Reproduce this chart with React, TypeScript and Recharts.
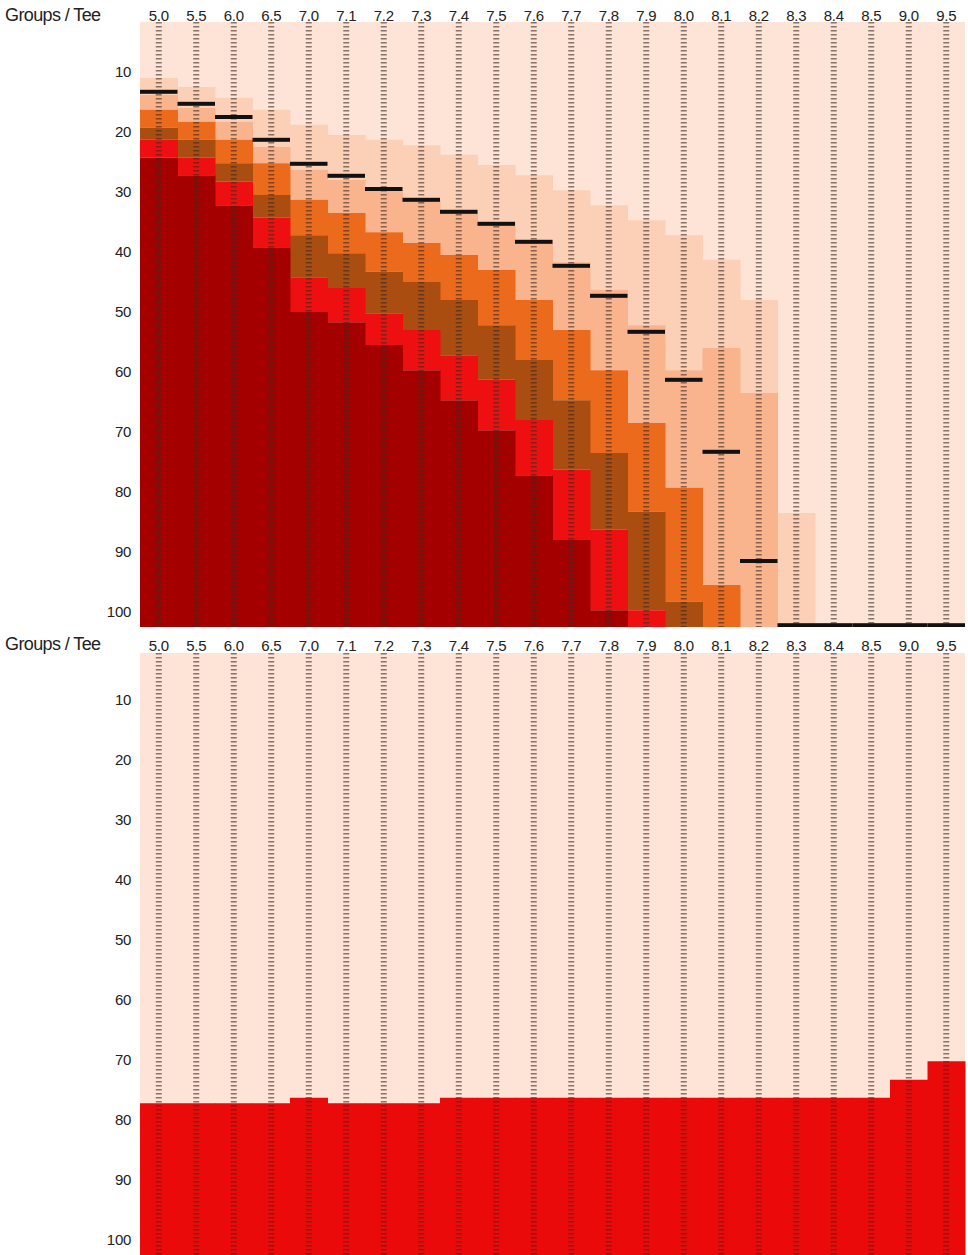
import React from 'react';
import { ComposedChart, Bar, Scatter, XAxis, YAxis, CartesianGrid, ReferenceLine } from 'recharts';

const TEES = ['5.0', '5.5', '6.0', '6.5', '7.0', '7.1', '7.2', '7.3', '7.4', '7.5', '7.6', '7.7', '7.8', '7.9', '8.0', '8.1', '8.2', '8.3', '8.4', '8.5', '9.0', '9.5'];
const Y_TICKS = [10, 20, 30, 40, 50, 60, 70, 80, 90, 100];

// band tops (group number), top panel; 102.5 = band absent
const PEACH_TOP = [11.0, 12.5, 14.3, 16.3, 18.8, 20.5, 21.3, 22.2, 23.8, 25.5, 27.2, 29.7, 32.2, 34.7, 37.2, 41.3, 48.0, 83.5, 102.5, 102.5, 102.5, 102.5];
const SALMON_TOP = [13.8, 16.0, 18.3, 22.5, 26.3, 28.0, 29.7, 31.3, 33.0, 35.0, 38.0, 41.7, 46.3, 52.2, 59.7, 56.0, 63.5, 102.5, 102.5, 102.5, 102.5, 102.5];
const ORANGE_TOP = [16.3, 18.3, 21.3, 25.2, 31.3, 33.5, 36.7, 38.5, 40.5, 43.0, 48.0, 53.0, 59.7, 68.5, 79.3, 95.5, 102.5, 102.5, 102.5, 102.5, 102.5, 102.5];
const BROWN_TOP = [19.3, 21.3, 25.2, 30.5, 37.2, 40.2, 43.3, 45.0, 48.0, 52.2, 58.0, 64.7, 73.5, 83.3, 98.3, 102.5, 102.5, 102.5, 102.5, 102.5, 102.5, 102.5];
const RED_TOP = [21.3, 24.3, 28.3, 34.3, 44.2, 46.0, 50.2, 53.0, 57.2, 61.3, 68.0, 76.3, 86.3, 99.7, 102.5, 102.5, 102.5, 102.5, 102.5, 102.5, 102.5, 102.5];
const DARK_TOP = [24.3, 27.2, 32.2, 39.2, 50.0, 51.7, 55.5, 59.7, 64.7, 69.7, 77.2, 88.0, 99.7, 102.5, 102.5, 102.5, 102.5, 102.5, 102.5, 102.5, 102.5, 102.5];
const MEDIAN = [13.3, 15.3, 17.5, 21.3, 25.3, 27.3, 29.5, 31.3, 33.3, 35.3, 38.3, 42.3, 47.3, 53.3, 61.3, 73.3, 91.5, 102.2, 102.2, 102.2, 102.2, 102.2];

// bottom panel: top of red block
const LOW_RED_TOP = [77.2, 77.2, 77.2, 77.2, 76.3, 77.2, 77.2, 77.2, 76.3, 76.3, 76.3, 76.3, 76.3, 76.3, 76.3, 76.3, 76.3, 76.3, 76.3, 76.3, 73.3, 70.2];

const BOTTOM = 102.5;
const FONT = '"Liberation Sans", Arial, sans-serif';
const BG = '#fde4d7';

const topData = TEES.map((tee, i) => ({
  tee,
  s0: PEACH_TOP[i],
  s1: SALMON_TOP[i] - PEACH_TOP[i],
  s2: ORANGE_TOP[i] - SALMON_TOP[i],
  s3: BROWN_TOP[i] - ORANGE_TOP[i],
  s4: RED_TOP[i] - BROWN_TOP[i],
  s5: DARK_TOP[i] - RED_TOP[i],
  s6: BOTTOM - DARK_TOP[i],
  median: MEDIAN[i],
}));

const lowData = TEES.map((tee, i) => ({
  tee,
  s0: LOW_RED_TOP[i],
  s1: BOTTOM - LOW_RED_TOP[i],
}));

const XTick = ({ x, payload }: any) => (
  <text x={x} y={21} textAnchor="middle" fontSize={15} fill="#222" fontFamily={FONT} letterSpacing={-0.3}>
    {payload.value}
  </text>
);

const YTick = ({ y, payload }: any) => (
  <text x={131} y={y} dy={5} textAnchor="end" fontSize={15} fill="#222" fontFamily={FONT} letterSpacing={-0.3}>
    {payload.value}
  </text>
);

const Marker = ({ cx, cy }: any) => (
  <rect x={cx - 18.75} y={cy - 2} width={37.5} height={4} fill="#111" />
);

const dashLines = () =>
  TEES.map((t) => (
    <ReferenceLine
      key={t}
      x={t}
      stroke="#3a2a22"
      strokeWidth={6}
      strokeDasharray="1.4 2.6"
      strokeOpacity={0.6}
    />
  ));

const Title = ({ top }: { top: number }) => (
  <svg width={130} height={30} style={{ position: 'absolute', left: 0, top }}>
    <text x={5} y={21} fontSize={18} letterSpacing={-0.6} fill="#222" fontFamily={FONT}>
      Groups / Tee
    </text>
  </svg>
);

export default function App() {
  return (
    <div style={{ position: 'absolute', left: 0, top: 0, width: 968, height: 1255, background: '#fff' }}>
      <div style={{ position: 'absolute', left: 0, top: 0 }}>
        <ComposedChart width={968} height={630} data={topData} barCategoryGap={0} barGap={0}
          margin={{ top: 0, right: 3, bottom: 3, left: 0 }}>
          <CartesianGrid fill={BG} horizontal={false} vertical={false} />
          <XAxis dataKey="tee" orientation="top" height={22} axisLine={false} tickLine={false} tick={<XTick />} interval={0} />
          <YAxis type="number" reversed domain={[1.667, 102.5]} allowDataOverflow width={140}
            ticks={Y_TICKS} axisLine={false} tickLine={false} tick={<YTick />} />
          <Bar dataKey="s0" stackId="a" fill="transparent" isAnimationActive={false} />
          <Bar dataKey="s1" stackId="a" fill="#fcd0b6" isAnimationActive={false} />
          <Bar dataKey="s2" stackId="a" fill="#f9b48d" isAnimationActive={false} />
          <Bar dataKey="s3" stackId="a" fill="#ec6a1c" isAnimationActive={false} />
          <Bar dataKey="s4" stackId="a" fill="#a94d10" isAnimationActive={false} />
          <Bar dataKey="s5" stackId="a" fill="#ee1010" isAnimationActive={false} />
          <Bar dataKey="s6" stackId="a" fill="#a50000" isAnimationActive={false} />
          {dashLines()}
          <Scatter dataKey="median" shape={<Marker />} isAnimationActive={false} />
        </ComposedChart>
      </div>
      <Title top={0} />
      <div style={{ position: 'absolute', left: 0, top: 630 }}>
        <ComposedChart width={968} height={625} data={lowData} barCategoryGap={0} barGap={0}
          margin={{ top: 0, right: 3, bottom: 0, left: 0 }}>
          <CartesianGrid fill={BG} horizontal={false} vertical={false} />
          <XAxis dataKey="tee" orientation="top" height={23} axisLine={false} tickLine={false} tick={<XTick />} interval={0} />
          <YAxis type="number" reversed domain={[2.17, 102.5]} allowDataOverflow width={140}
            ticks={Y_TICKS} axisLine={false} tickLine={false} tick={<YTick />} />
          <Bar dataKey="s0" stackId="a" fill="transparent" isAnimationActive={false} />
          <Bar dataKey="s1" stackId="a" fill="#eb0a0a" isAnimationActive={false} />
          {dashLines()}
        </ComposedChart>
      </div>
      <Title top={629} />
    </div>
  );
}
